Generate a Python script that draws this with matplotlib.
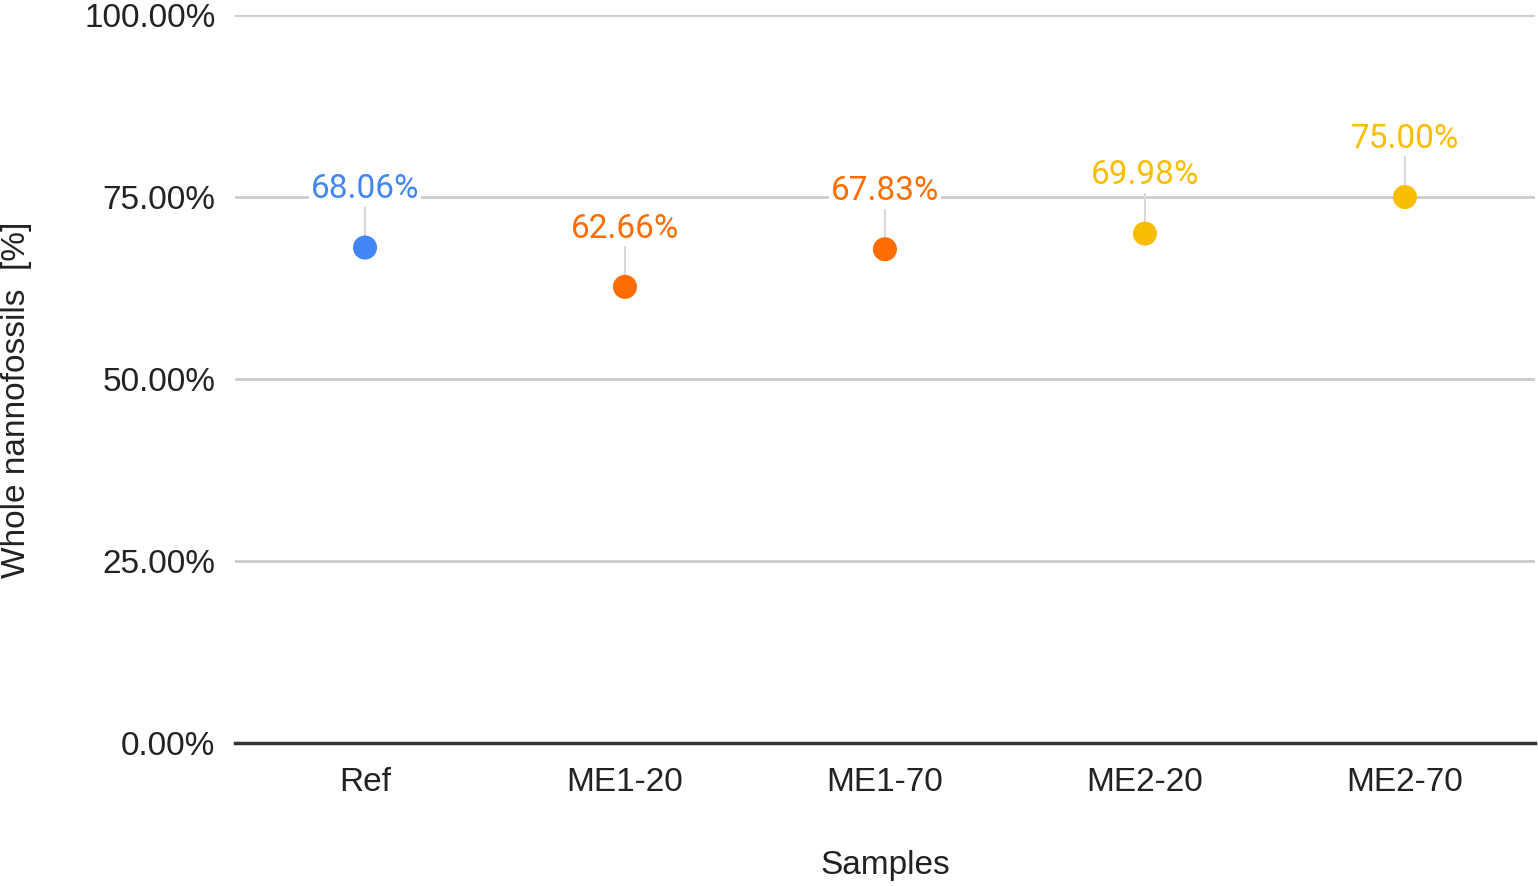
import matplotlib
matplotlib.use("Agg")
import matplotlib.pyplot as plt
from matplotlib.ticker import PercentFormatter

# data
samples = ["Ref", "ME1-20", "ME1-70", "ME2-20", "ME2-70"]
values = [68.06, 62.66, 67.83, 69.98, 75.00]
colors = ["#4285F4", "#FF6D01", "#FF6D01", "#FBBC04", "#FBBC04"]

plt.rcParams['font.family'] = ['Liberation Sans', 'DejaVu Sans']

fig = plt.figure(figsize=(15.38, 8.86), dpi=100)
ax = fig.add_axes([0.1528, 0.1614, 0.8452, 0.8216])

x = list(range(len(samples)))
ax.scatter(x, values, s=300, c=colors, zorder=4, linewidths=0)

for xi, v, c in zip(x, values, colors):
    ax.annotate(f"{v:.2f}%", xy=(xi, v), xytext=(0, 42), textcoords="offset points",
                ha="center", va="center", fontsize=24, color=c, family="Roboto",
                bbox=dict(boxstyle="square,pad=0.05", fc="white", ec="none"),
                arrowprops=dict(arrowstyle="-", color="#d9d9d9", lw=1.5,
                                shrinkA=0, shrinkB=9),
                zorder=3)

ax.set_xlim(-0.5, len(samples) - 0.5)
ax.set_ylim(0, 100)
ax.set_yticks([0, 25, 50, 75, 100])
ax.yaxis.set_major_formatter(PercentFormatter(decimals=2))
ax.set_xticks(x)
ax.set_xticklabels(samples)
ax.grid(axis="y", color="#cccccc", lw=2)
ax.set_axisbelow(True)
for s in ["top", "right", "left"]:
    ax.spines[s].set_visible(False)
ax.spines["bottom"].set_color("#333333")
ax.spines["bottom"].set_linewidth(2.5)
ax.spines["bottom"].set_zorder(5)
ax.tick_params(length=0, labelsize=24, colors="#222222")
ax.tick_params(axis="x", pad=17)
ax.tick_params(axis="y", pad=14)

# axis titles
fig.text(0.5754, 0.0226, "Samples", fontsize=24, color="#222222", ha="center", va="center")
fig.text(0.0105, 0.5485, "Whole nannofossils  [%]", fontsize=24, color="#222222",
         rotation=90, ha="center", va="center")

fig.savefig("out.png", dpi=100)
